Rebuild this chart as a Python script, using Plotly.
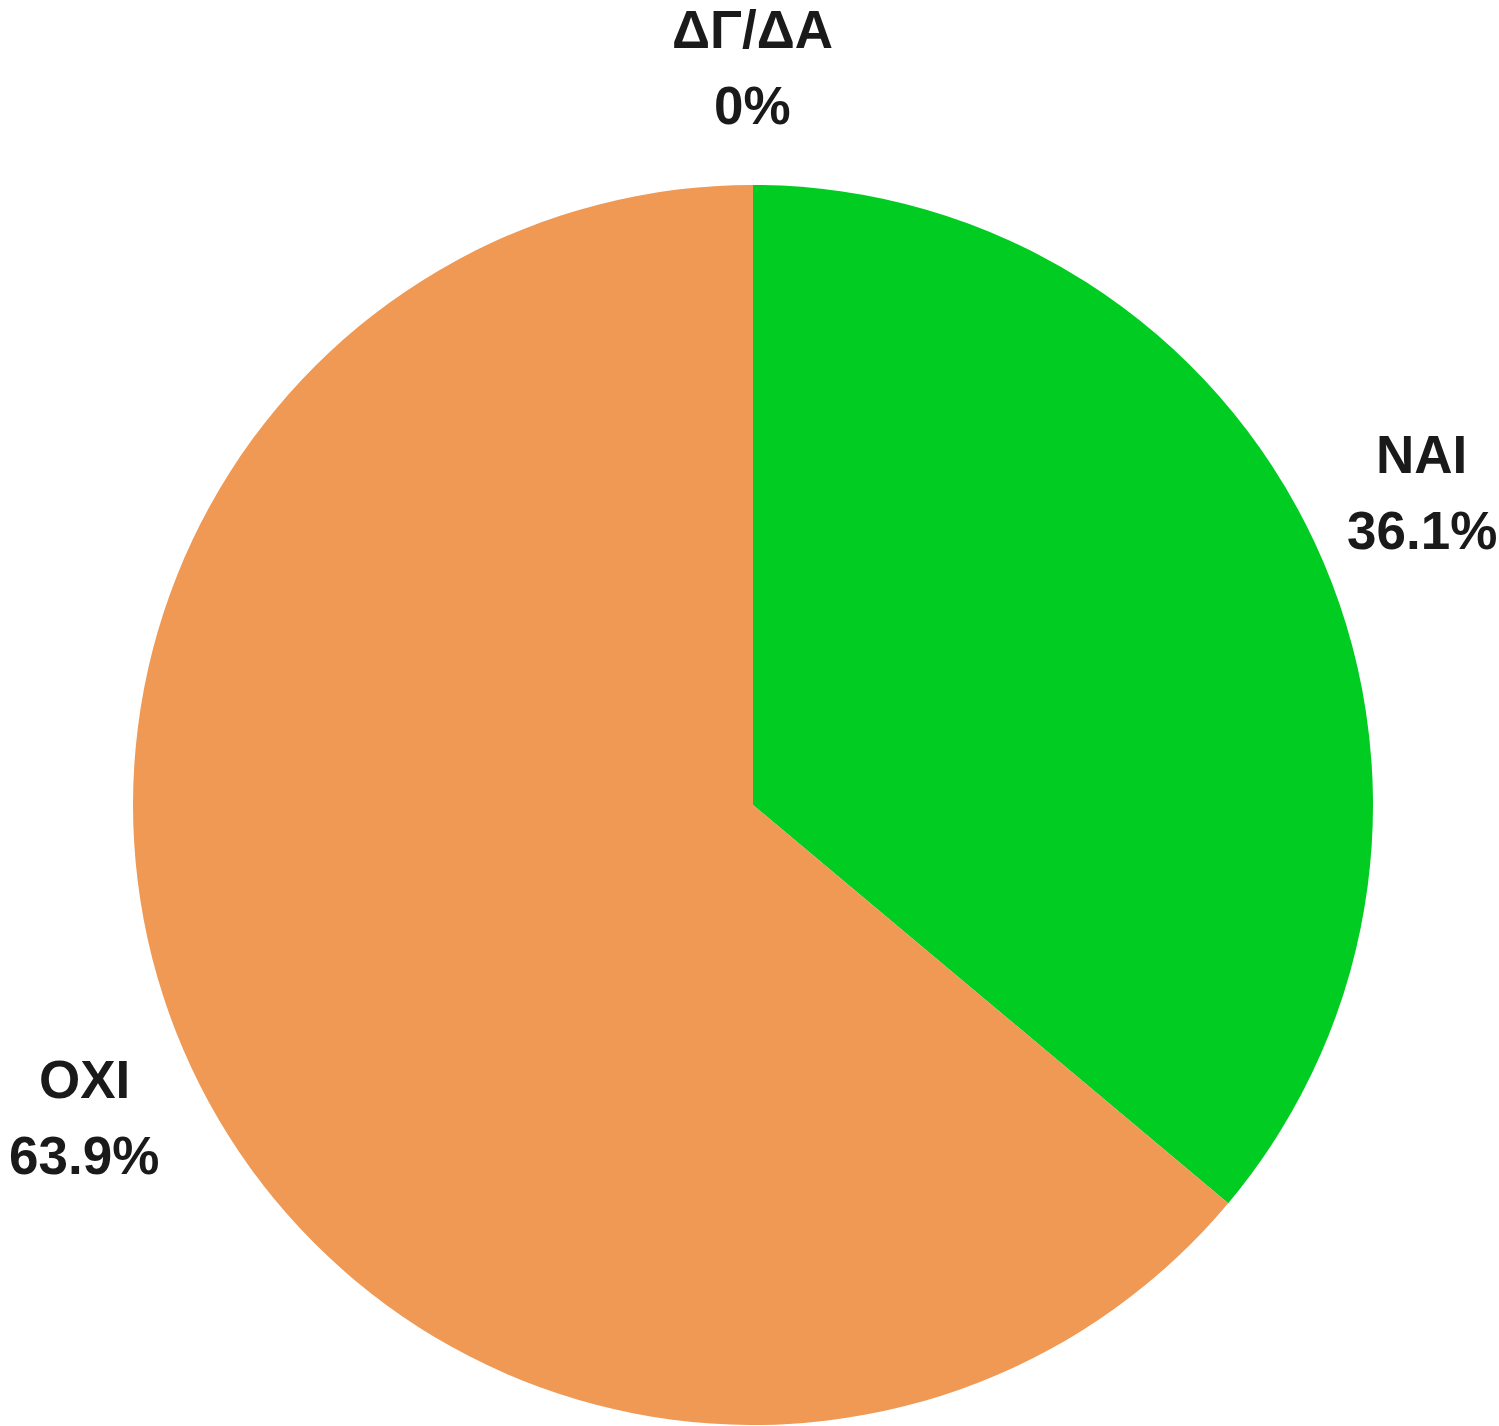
import math
import plotly.graph_objects as go

# answer categories and their shares
labels = ['NAI', 'OXI', 'ΔΓ/ΔΑ']
values = [36.1, 63.9, 0]
colors = ['#00CC22', '#EF9955', '#FFFFFF']

FONT = 'Liberation Sans, Arial, sans-serif'
TEXT_COLOR = '#1a1a1a'
W, H = 1499, 1426
M = dict(l=7, r=0, t=185, b=1)
LABEL_DIST = 1.19   # label centre, in pie radii
LINE_GAP = 38       # half the distance between the two label lines (px)

fig = go.Figure(go.Pie(
    labels=labels,
    values=values,
    sort=False,
    direction='clockwise',
    rotation=0,
    marker=dict(colors=colors, line=dict(width=0)),
    textinfo='none',
    hoverinfo='label+percent',
))

# outside labels placed at the middle angle of each slice
pw = W - M['l'] - M['r']
ph = H - M['t'] - M['b']
r_px = min(pw, ph) / 2
total = sum(values)
start = 0
for lab, v in zip(labels, values):
    pct = v / total * 100
    mid = (start + pct / 2) / 100 * 2 * math.pi
    start += pct
    x = 0.5 + LABEL_DIST * r_px * math.sin(mid) / pw
    y = 0.5 + LABEL_DIST * r_px * math.cos(mid) / ph
    pct_txt = f'{pct:.1f}'.rstrip('0').rstrip('.') + '%'
    for txt, shift in [(lab, LINE_GAP), (pct_txt, -LINE_GAP)]:
        fig.add_annotation(
            x=x, y=y, xref='paper', yref='paper',
            text=f'<b>{txt}</b>', showarrow=False,
            xanchor='center', yanchor='middle', yshift=shift,
            font=dict(family=FONT, size=53, color=TEXT_COLOR),
        )

fig.update_layout(
    width=W,
    height=H,
    showlegend=False,
    paper_bgcolor='white',
    plot_bgcolor='white',
    margin=dict(M, autoexpand=False),
    font=dict(family=FONT, color=TEXT_COLOR),
)

# drop the default page margin so the figure fills the window exactly
fig.write_html('out.html', config={'displayModeBar': False},
               post_script="document.body.style.margin = '0';")
